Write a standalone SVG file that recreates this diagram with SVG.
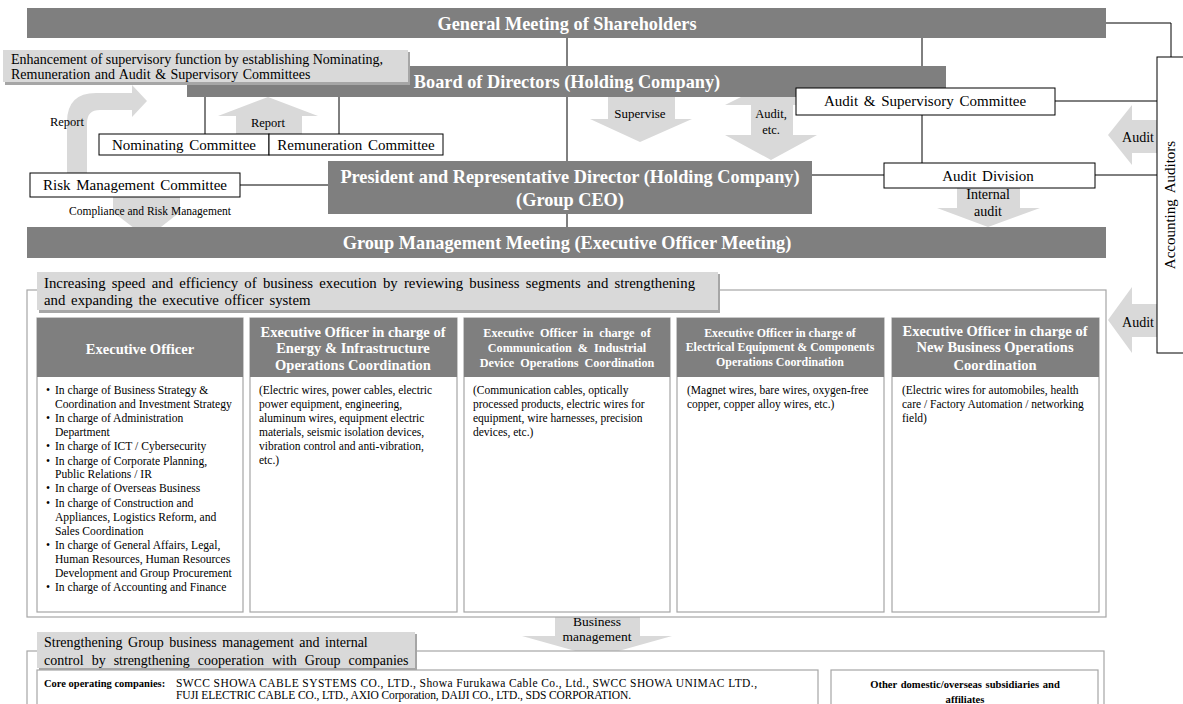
<svg xmlns="http://www.w3.org/2000/svg" width="1183" height="704" viewBox="0 0 1183 704">
<style>
.bar{fill:#7f7f7f}
.bt{font-family:"Liberation Serif",serif;font-weight:bold;fill:#fff;text-anchor:middle}
.box{fill:#fff;stroke:#000;stroke-width:1}
.col{fill:#fff;stroke:#a6a6a6;stroke-width:1.2}
.hint{fill:#d9d9d9}
.sh{fill:#a6a6a6}
.arr{fill:#d9d9d9}
.t{font-family:"Liberation Serif",serif;fill:#000}
.c{text-anchor:middle}
.ln{stroke:#000;stroke-width:1;fill:none}
.frame{fill:#fff;stroke:#a6a6a6;stroke-width:1.2}
</style>
<rect width="1183" height="704" fill="#fff"/>

<g id="connectors">
<line class="ln" x1="567" y1="38" x2="567" y2="227"/>
<polyline class="ln" points="1106,23 1171,23 1171,57"/>
<line class="ln" x1="922" y1="38" x2="922" y2="88"/>
<line class="ln" x1="922" y1="115" x2="922" y2="163"/>
<line class="ln" x1="1055" y1="101" x2="1157" y2="101"/>
<line class="ln" x1="1095" y1="175" x2="1157" y2="175"/>
<line class="ln" x1="812" y1="175" x2="884" y2="175"/>
<line class="ln" x1="205" y1="97" x2="205" y2="134"/>
<line class="ln" x1="339" y1="97" x2="339" y2="134"/>
<line class="ln" x1="240" y1="185" x2="328" y2="185"/>
</g>

<g id="arrows">
<path id="arrow-report-curve" class="arr" d="M67 173 L67 122 Q67 93 96 93 L132 93 L132 85 L147 101 L132 117 L132 110 L100 110 Q87 110 87 123 L87 173 Z"/>
<polygon id="arrow-report-up" class="arr" points="236,134 236,116 218,116 268,97 318,116 302,116 302,134"/>
<polygon id="arrow-supervise" class="arr" points="608,97 675,97 675,119 692,119 640,142 590,119 608,119"/>
<polygon id="arrow-audit-etc" class="arr" points="771,82 817,105 793,105 793,135 817,135 771,160 725,135 751,135 751,105 725,105"/>
<polygon id="arrow-compliance" class="arr" points="113,197 180,197 180,212 147,238 113,212"/>
<polygon id="arrow-internal-audit" class="arr" points="957,188 1020,188 1020,208 1040,208 988,227 937,208 957,208"/>
<polygon id="arrow-audit-upper" class="arr" points="1157,120 1132,120 1132,105 1108,135 1132,165 1132,153 1157,153"/>
<polygon id="arrow-audit-lower" class="arr" points="1157,304 1132,304 1132,287 1108,320 1132,353 1132,337 1157,337"/>
<polygon id="arrow-business" class="arr" points="555,612 640,612 640,636 672,636 597,657 522,636 555,636"/>
</g>

<g id="general-meeting">
<rect class="bar" x="27" y="8" width="1079" height="30"/>
<text class="bt" x="567" y="29.5" font-size="18.3">General Meeting of Shareholders</text>
</g>

<g id="accounting-auditors">
<rect class="box" x="1157" y="57" width="32" height="296"/>
<text class="t c" transform="translate(1175,205) rotate(-90)" font-size="15" word-spacing="3">Accounting Auditors</text>
</g>

<g id="board">
<rect class="bar" x="187" y="66" width="759" height="31"/>
<text class="bt" x="567" y="88" font-size="18.3">Board of Directors (Holding Company)</text>
</g>

<g id="enhancement-note">
<rect class="sh" x="5" y="52" width="405" height="33"/>
<rect class="hint" x="3" y="50" width="405" height="32"/>
<text class="t" x="11" y="64" font-size="14">Enhancement of supervisory function by establishing Nominating,</text>
<text class="t" x="11" y="79" font-size="14" word-spacing="1">Remuneration and Audit &amp; Supervisory Committees</text>
</g>

<g id="audit-supervisory-committee">
<rect class="box" x="796" y="88" width="259" height="27"/>
<text class="t c" x="925" y="106" font-size="15" word-spacing="2">Audit &amp; Supervisory Committee</text>
</g>

<g id="nominating-committee">
<rect class="box" x="99" y="134" width="170" height="21"/>
<text class="t c" x="184" y="150" font-size="15" word-spacing="2">Nominating Committee</text>
</g>
<g id="remuneration-committee">
<rect class="box" x="269" y="134" width="174" height="21"/>
<text class="t c" x="356" y="150" font-size="15" word-spacing="2">Remuneration Committee</text>
</g>

<g id="risk-management-committee">
<rect class="box" x="30" y="173" width="210" height="24"/>
<text class="t c" x="135" y="190" font-size="15" word-spacing="2">Risk Management Committee</text>
</g>

<g id="president">
<rect class="bar" x="328" y="161" width="484" height="53"/>
<text class="bt" x="570" y="183" font-size="18.3">President and Representative Director (Holding Company)</text>
<text class="bt" x="570" y="206" font-size="18.3">(Group CEO)</text>
</g>

<g id="audit-division">
<rect class="box" x="884" y="163" width="211" height="25"/>
<text class="t c" x="988" y="180.5" font-size="15" word-spacing="2">Audit Division</text>
</g>

<g id="group-management">
<rect class="bar" x="27" y="227" width="1079" height="31"/>
<text class="bt" x="567" y="249" font-size="18.3">Group Management Meeting (Executive Officer Meeting)</text>
</g>

<g id="labels">
<text class="t c" x="67" y="126" font-size="12.5">Report</text>
<text class="t c" x="268" y="127" font-size="12.5">Report</text>
<text class="t c" x="640" y="118" font-size="13">Supervise</text>
<text class="t c" x="771" y="118" font-size="12.5">Audit,</text>
<text class="t c" x="771" y="134" font-size="12.5">etc.</text>
<text class="t c" x="150" y="215" font-size="11.5">Compliance and Risk Management</text>
<text class="t c" x="988" y="199" font-size="14">Internal</text>
<text class="t c" x="988" y="216" font-size="14">audit</text>
<text class="t c" x="1138" y="142" font-size="14">Audit</text>
<text class="t c" x="1138" y="327" font-size="14">Audit</text>
<text class="t c" x="597" y="626" font-size="13.5">Business</text>
<text class="t c" x="597" y="641" font-size="13.5">management</text>
</g>

<g id="executive-section">
<rect class="frame" x="27" y="290" width="1079" height="327"/>
<rect class="sh" x="39" y="274" width="681" height="39"/>
<rect class="hint" x="37" y="272" width="681" height="38"/>
<text class="t" x="44" y="288" font-size="14.8" word-spacing="2.5">Increasing speed and efficiency of business execution by reviewing business segments and strengthening</text>
<text class="t" x="44" y="305" font-size="14.8" word-spacing="2">and expanding the executive officer system</text>
</g>

<g id="exec-officer">
<rect class="col" x="37" y="318" width="206" height="294"/>
<rect class="bar" x="37" y="318" width="206" height="59"/>
<text class="bt" x="140" y="354" font-size="14.5">Executive Officer</text>
<g class="t" font-size="11.6">
<text x="46" y="394">•</text><text x="55" y="394">In charge of Business Strategy &amp;</text>
<text x="55" y="408">Coordination and Investment Strategy</text>
<text x="46" y="422">•</text><text x="55" y="422">In charge of Administration</text>
<text x="55" y="436">Department</text>
<text x="46" y="450">•</text><text x="55" y="450">In charge of ICT / Cybersecurity</text>
<text x="46" y="465">•</text><text x="55" y="465">In charge of Corporate Planning,</text>
<text x="55" y="478">Public Relations / IR</text>
<text x="46" y="492">•</text><text x="55" y="492">In charge of Overseas Business</text>
<text x="46" y="507">•</text><text x="55" y="507">In charge of Construction and</text>
<text x="55" y="521">Appliances, Logistics Reform, and</text>
<text x="55" y="535">Sales Coordination</text>
<text x="46" y="549">•</text><text x="55" y="549">In charge of General Affairs, Legal,</text>
<text x="55" y="563">Human Resources, Human Resources</text>
<text x="55" y="577">Development and Group Procurement</text>
<text x="46" y="591">•</text><text x="55" y="591">In charge of Accounting and Finance</text>
</g>
</g>

<g id="exec-energy">
<rect class="col" x="250" y="318" width="207" height="294"/>
<rect class="bar" x="250" y="318" width="207" height="59"/>
<text class="bt" x="353" y="337" font-size="14.5">Executive Officer in charge of</text>
<text class="bt" x="353" y="353" font-size="14.5">Energy &amp; Infrastructure</text>
<text class="bt" x="353" y="370" font-size="14.5">Operations Coordination</text>
<g class="t" font-size="11.5">
<text x="259" y="394">(Electric wires, power cables, electric</text>
<text x="259" y="408">power equipment, engineering,</text>
<text x="259" y="422">aluminum wires, equipment electric</text>
<text x="259" y="436">materials, seismic isolation devices,</text>
<text x="259" y="450">vibration control and anti-vibration,</text>
<text x="259" y="464">etc.)</text>
</g>
</g>

<g id="exec-communication">
<rect class="col" x="464" y="318" width="206" height="294"/>
<rect class="bar" x="464" y="318" width="206" height="59"/>
<text class="bt" x="567" y="337" font-size="12.2" word-spacing="3">Executive Officer in charge of</text>
<text class="bt" x="567" y="352" font-size="12.2" word-spacing="3">Communication &amp; Industrial</text>
<text class="bt" x="567" y="367" font-size="12.2" word-spacing="3">Device Operations Coordination</text>
<g class="t" font-size="11.5">
<text x="473" y="394">(Communication cables, optically</text>
<text x="473" y="408">processed products, electric wires for</text>
<text x="473" y="422">equipment, wire harnesses, precision</text>
<text x="473" y="436">devices, etc.)</text>
</g>
</g>

<g id="exec-electrical">
<rect class="col" x="677" y="318" width="207" height="294"/>
<rect class="bar" x="677" y="318" width="207" height="59"/>
<text class="bt" x="780" y="337" font-size="11.9">Executive Officer in charge of</text>
<text class="bt" x="780" y="350.5" font-size="11.9">Electrical Equipment &amp; Components</text>
<text class="bt" x="780" y="366" font-size="11.9">Operations Coordination</text>
<g class="t" font-size="11.5">
<text x="687" y="394">(Magnet wires, bare wires, oxygen-free</text>
<text x="687" y="408">copper, copper alloy wires, etc.)</text>
</g>
</g>

<g id="exec-new-business">
<rect class="col" x="892" y="318" width="207" height="294"/>
<rect class="bar" x="892" y="318" width="207" height="59"/>
<text class="bt" x="995" y="336" font-size="14.5">Executive Officer in charge of</text>
<text class="bt" x="995" y="352" font-size="14.5">New Business Operations</text>
<text class="bt" x="995" y="370" font-size="14.5">Coordination</text>
<g class="t" font-size="11.5">
<text x="902" y="394">(Electric wires for automobiles, health</text>
<text x="902" y="408">care / Factory Automation / networking</text>
<text x="902" y="422">field)</text>
</g>
</g>

<g id="group-companies">
<rect class="frame" x="27" y="651" width="1077" height="60"/>
<rect class="sh" x="39" y="634" width="378" height="36"/>
<rect class="hint" x="37" y="632" width="378" height="36"/>
<text class="t" x="44" y="647" font-size="14" word-spacing="2">Strengthening Group business management and internal</text>
<text class="t" x="44" y="665" font-size="14" word-spacing="4.5">control by strengthening cooperation with Group companies</text>
</g>

<g id="core-operating">
<rect class="col" x="37" y="670" width="781" height="40"/>
<text class="t" x="44" y="687" font-size="10.5" font-weight="bold">Core operating companies:</text>
<text class="t" x="176" y="687" font-size="11.5" textLength="581" lengthAdjust="spacing">SWCC SHOWA CABLE SYSTEMS CO., LTD., Showa Furukawa Cable Co., Ltd., SWCC SHOWA UNIMAC LTD.,</text>
<text class="t" x="176" y="699" font-size="11.5" textLength="455" lengthAdjust="spacing">FUJI ELECTRIC CABLE CO., LTD., AXIO Corporation, DAIJI CO., LTD., SDS CORPORATION.</text>
</g>

<g id="other-affiliates">
<rect class="col" x="831" y="670" width="267" height="40"/>
<text class="t c" x="965" y="688" font-size="10.6" font-weight="bold" word-spacing="1">Other domestic/overseas subsidiaries and</text>
<text class="t c" x="965" y="703" font-size="10.6" font-weight="bold">affiliates</text>
</g>
</svg>
